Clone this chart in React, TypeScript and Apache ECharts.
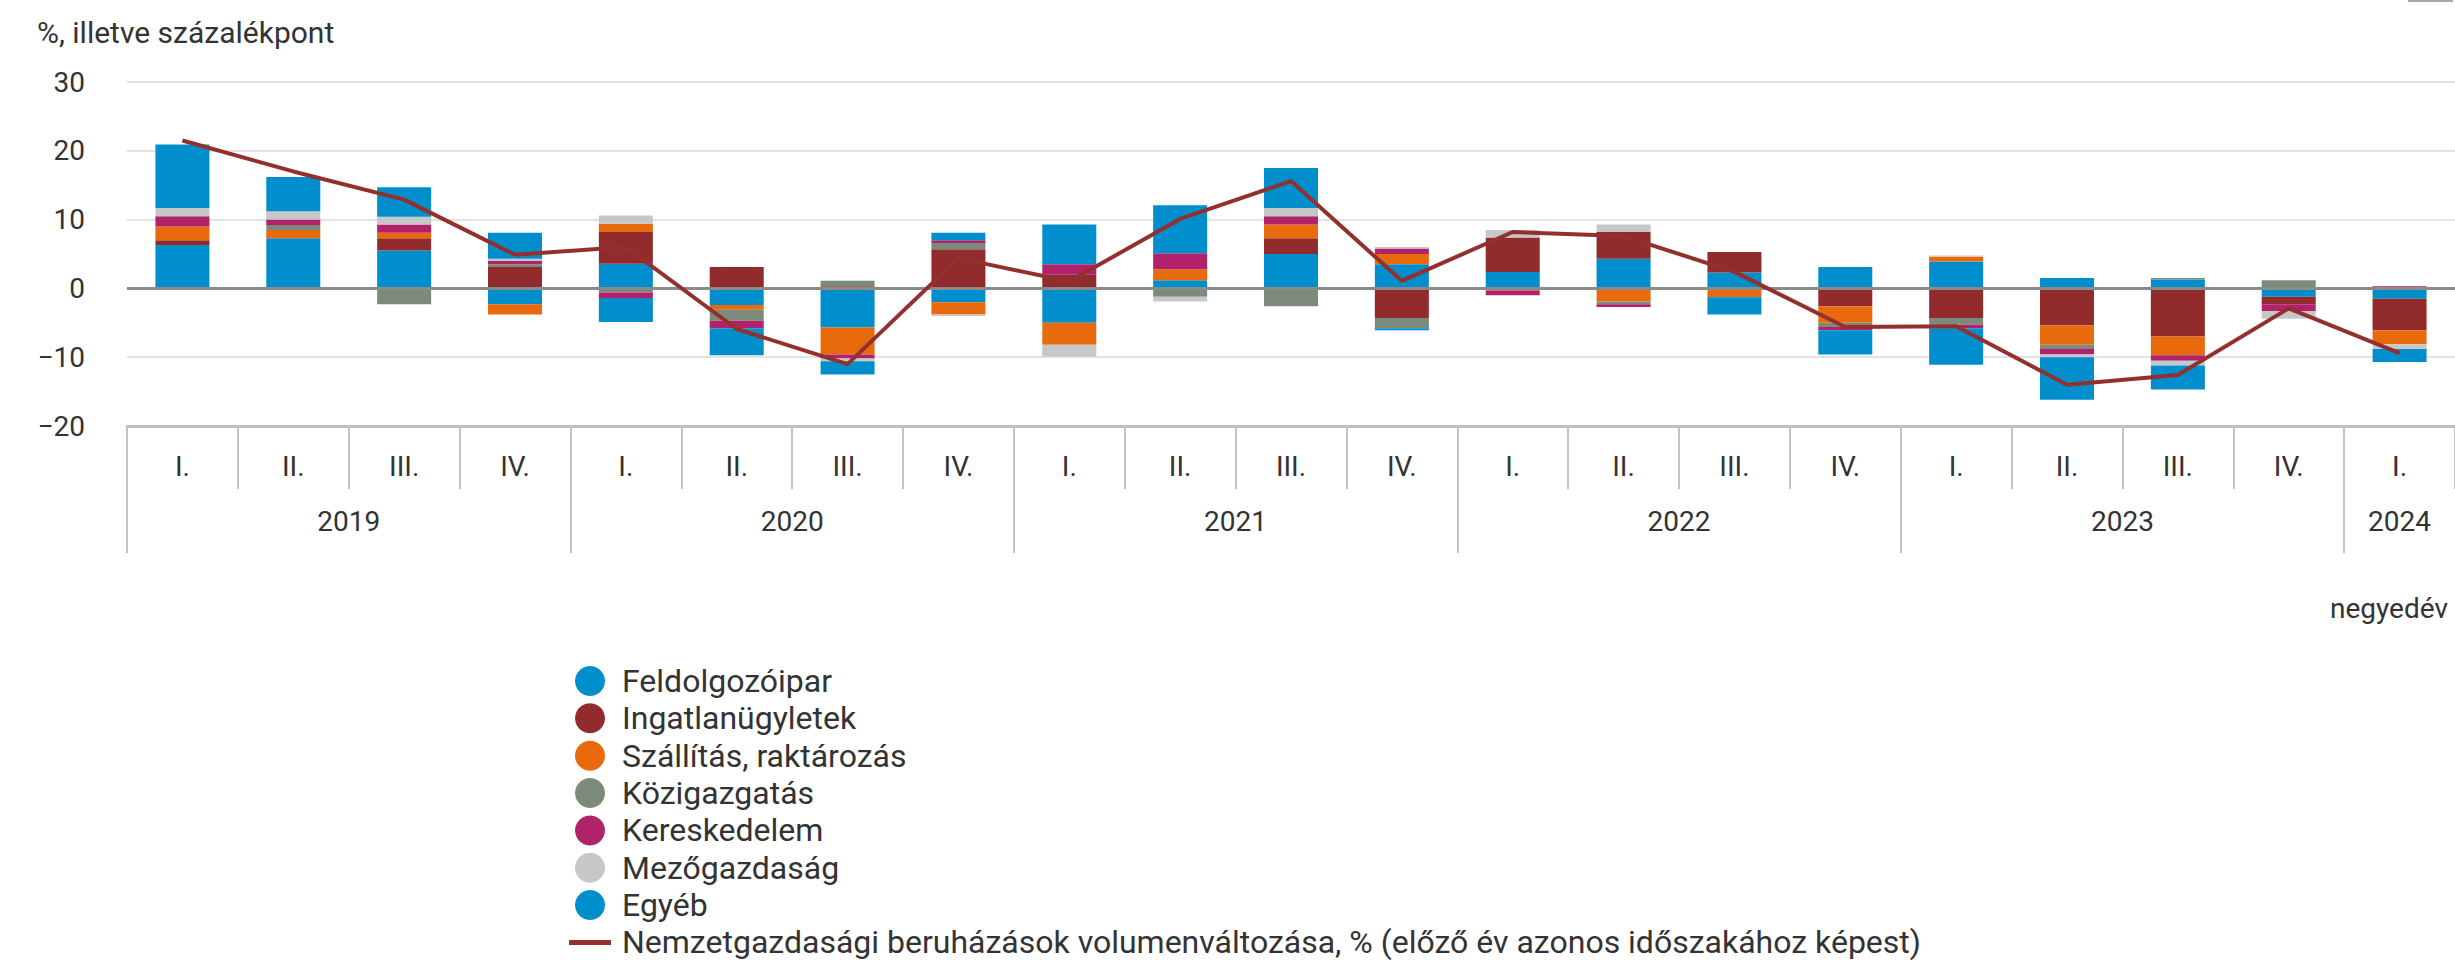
import React, { useEffect, useRef } from "react";
import * as echarts from "echarts";

const quarters = [
  "I.", "II.", "III.", "IV.",
  "I.", "II.", "III.", "IV.",
  "I.", "II.", "III.", "IV.",
  "I.", "II.", "III.", "IV.",
  "I.", "II.", "III.", "IV.",
  "I.",
];
const years = ["2019", "2020", "2021", "2022", "2023", "2024"];
const quartersPerYear = [4, 4, 4, 4, 4, 1];

const seriesNames = [
  "Feldolgozóipar",
  "Ingatlanügyletek",
  "Szállítás, raktározás",
  "Közigazgatás",
  "Kereskedelem",
  "Mezőgazdaság",
  "Egyéb",
];
const lineName =
  "Nemzetgazdasági beruházások volumenváltozása, % (előző év azonos időszakához képest)";

const feldolgozoipar = [6.3, 7.3, 5.5, -2.3, 3.6, -2.4, -5.7, -2.0, -5.0, 1.2, 5.0, 3.5, 2.4, 4.3, 2.3, 3.1, 3.9, 1.5, 1.3, -1.2, -1.5];
const ingatlan = [0.7, 0, 1.8, 3.1, 4.6, 3.1, 0.3, 5.7, 2.0, 0, 2.3, -4.3, 5.0, 3.9, 3.0, -2.6, -4.3, -5.4, -7.0, -1.1, -4.6];
const szallitas = [2.0, 1.2, 0.8, -1.5, 1.2, -0.7, -3.9, -1.8, -3.2, 1.6, 2.0, 1.5, -0.3, -1.9, -1.1, -2.4, 0.7, -2.8, -2.7, 0, -2.0];
const kozigazgatas = [0, 0.7, -2.3, 0.4, -0.6, -1.6, 0.8, 0.9, 0, -1.2, -2.6, -1.5, 0, -0.4, -0.3, -0.6, -1.0, -0.6, 0.2, 1.2, 0];
const kereskedelem = [1.5, 0.8, 1.2, 0.5, -0.8, -1.1, -0.6, 0.4, 1.5, 2.3, 1.2, 0.8, -0.7, -0.4, 0, -0.5, -0.5, -0.8, -0.8, -1.0, 0.3];
const mezogazdasag = [1.2, 1.2, 1.1, 0.3, 1.2, 0, -0.4, -0.2, -1.7, -0.7, 1.2, 0.2, 1.1, 1.1, 0, 0, 0.2, -0.4, -0.7, -1.1, -0.7];
const egyeb = [9.2, 5.0, 4.3, 3.8, -3.5, -3.9, -1.9, 1.1, 5.8, 7.0, 5.8, -0.3, 0, 0, -2.4, -3.5, -5.3, -6.2, -3.5, 0, -1.9];
const osszes = [21.5, 17.0, 12.9, 4.9, 6.0, -5.9, -11.0, 4.4, 1.0, 10.1, 15.6, 1.1, 8.2, 7.6, 2.4, -5.6, -5.5, -14.0, -12.6, -2.9, -9.4];

const barValues = [feldolgozoipar, ingatlan, szallitas, kozigazgatas, kereskedelem, mezogazdasag, egyeb];
const barColors = ["#008fcc", "#922b2b", "#e96a0c", "#7b8a7b", "#b2226a", "#c6c7c9", "#008fcc"];
const lineColor = "#93302e";

const FONT = "Roboto";
const TEXT = "#333333";

export default function App() {
  const ref = useRef<HTMLDivElement>(null);

  useEffect(() => {
    document.body.style.margin = "0";
    if (!ref.current) return;
    const chart = echarts.init(ref.current, null, { renderer: "svg" });

    const yearTicks: number[] = [];
    const yearLabelPos: number[] = [];
    let acc = 0;
    quartersPerYear.forEach((n) => {
      yearTicks.push(acc);
      yearLabelPos.push(acc + n / 2);
      acc += n;
    });

    const barSeries = seriesNames.map((name, i) => ({
      name,
      type: "bar",
      stack: "total",
      barWidth: 54,
      data: barValues[i],
      itemStyle: { color: barColors[i] },
      emphasis: { disabled: true },
    }));

    chart.setOption({
      animation: false,
      backgroundColor: "#ffffff",
      textStyle: { fontFamily: FONT },
      grid: { left: 127, right: -1, top: 82, bottom: 540, containLabel: false },
      xAxis: [
        {
          type: "category",
          data: quarters,
          position: "bottom",
          boundaryGap: true,
          axisLine: { onZero: false, lineStyle: { color: "#bfbfbf", width: 3 } },
          axisTick: { show: true, interval: 0, length: 63, lineStyle: { color: "#c4c4c4", width: 2 } },
          axisLabel: { interval: 0, margin: 26, fontSize: 28, color: TEXT, fontFamily: FONT },
          splitLine: { show: false },
        },
        {
          type: "value",
          min: 0,
          max: quarters.length,
          position: "bottom",
          axisLine: { show: false, onZero: false },
          splitLine: { show: false },
          axisTick: {
            show: true,
            customValues: yearTicks,
            length: 127,
            lineStyle: { color: "#c4c4c4", width: 2 },
          },
          axisLabel: {
            customValues: yearLabelPos,
            formatter: (v: number) => {
              const idx = yearLabelPos.findIndex((p) => Math.abs(p - v) < 1e-6);
              return idx >= 0 ? years[idx] : "";
            },
            margin: 81,
            fontSize: 28,
            color: TEXT,
            fontFamily: FONT,
          },
        },
      ],
      yAxis: {
        type: "value",
        min: -20,
        max: 30,
        interval: 10,
        axisLine: { show: false },
        axisTick: { show: false },
        axisLabel: {
          fontSize: 28,
          color: TEXT,
          margin: 42,
          fontFamily: FONT,
          formatter: (v: number) => (v < 0 ? "\u2212" + Math.abs(v) : String(v)),
        },
        splitLine: { lineStyle: { color: "#e3e3e3", width: 2 } },
      },
      legend: {
        orient: "vertical",
        left: 569,
        top: 665,
        height: 320,
        padding: 0,
        itemWidth: 42,
        itemHeight: 30,
        itemGap: 5.35,
        selectedMode: false,
        textStyle: { fontFamily: FONT, fontSize: 32, color: TEXT, lineHeight: 32, padding: [0, 0, 0, 6] },
        data: [
          ...seriesNames.map((n) => ({ name: n, icon: "circle" })),
          {
            name: lineName,
            icon: "path://M0,0M42,30M0,12.5L42,12.5L42,17.5L0,17.5Z",
            itemStyle: { color: lineColor },
          },
        ],
      },
      graphic: [
        {
          type: "text",
          left: 37,
          top: 17,
          style: { text: "%, illetve százalékpont", fontSize: 30, fontFamily: FONT, fill: TEXT },
        },
        {
          type: "text",
          left: 2330,
          top: 594,
          style: { text: "negyedév", fontSize: 28, fontFamily: FONT, fill: TEXT },
        },
        {
          type: "rect",
          shape: { x: 2408, y: 0, width: 45, height: 2 },
          style: { fill: "#aaaaaa" },
        },
      ],
      series: [
        ...barSeries,
        {
          name: lineName,
          type: "line",
          data: osszes,
          z: 10,
          symbol: "none",
          lineStyle: { color: lineColor, width: 4 },
          itemStyle: { color: lineColor },
          emphasis: { disabled: true },
          markLine: {
            silent: true,
            symbol: ["none", "none"],
            label: { show: false },
            z: 5,
            lineStyle: { color: "#8a8a8a", width: 3, type: "solid" },
            data: [{ yAxis: 0 }],
          },
        },
      ],
    });

    return () => chart.dispose();
  }, []);

  return <div ref={ref} style={{ width: 2455, height: 966 }} />;
}
